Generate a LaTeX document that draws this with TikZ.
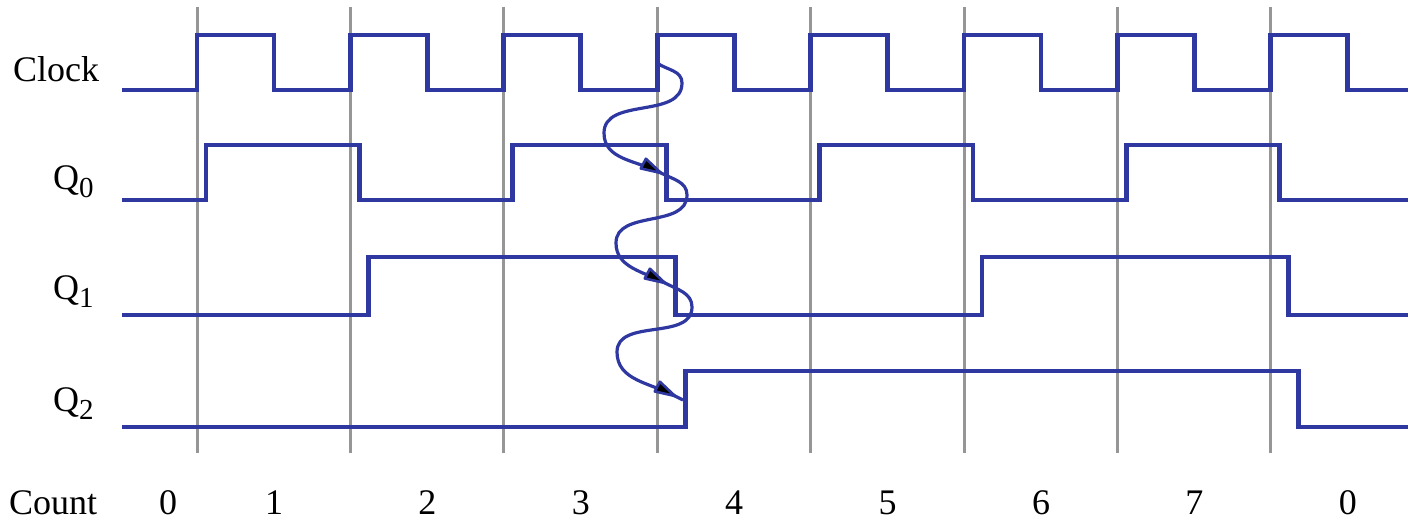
\documentclass[tikz,border=0pt]{standalone}
\usepackage{fontspec}
\setmainfont{Liberation Serif}
\usepackage{xcolor}
\usetikzlibrary{arrows.meta}
\definecolor{sigblue}{RGB}{46, 56, 160}
\definecolor{gridgray}{RGB}{150, 150, 150}

\begin{document}
\begin{tikzpicture}[
  x=1pt, y=1pt,
  gridline/.style={draw=gridgray, line width=3pt},
  wave/.style={draw=sigblue, line width=4.8pt},
  ripple/.style={draw=sigblue, line width=3.2pt},
  headshape/.style={draw=sigblue, fill=black, line width=2.6pt, line join=round},
  siglabel/.style={anchor=base west, inner sep=0pt, font=\fontsize{36}{40}\selectfont}
]
\useasboundingbox (0,0) rectangle (1408,522);

% Clock period grid
\foreach \k in {0,...,7}
  \draw[gridline] ({197+153.4*\k},515) -- ({197+153.4*\k},69);

% Signal names
\newcommand{\qsub}[1]{Q{\fontsize{29}{30}\selectfont\raisebox{-8pt}{#1}}}
\node[siglabel] (clocklbl) at (13,440) {Clock};
\node[siglabel] (qzerolbl) at (53,332) {\qsub{0}};
\node[siglabel] (qonelbl) at (53,222) {\qsub{1}};
\node[siglabel] (qtwolbl) at (53,110) {\qsub{2}};

% Count row
\node[siglabel] (countlbl) at (9,8) {Count};
\node[siglabel, anchor=base] (cnt0) at (168,8) {0};
\foreach \k/\n in {0/1,1/2,2/3,3/4,4/5,5/6,6/7,7/0}
  \node[siglabel, anchor=base] (cnt\n) at ({274+153.4*\k},8) {\n};

% Clock
\draw[wave] (122,432)
  \foreach \k in {0,...,7}{
    -- ({197+153.4*\k},432) -- ({197+153.4*\k},487)
    -- ({274+153.4*\k},487) -- ({274+153.4*\k},432) }
  -- (1408,432);

% Q0
\draw[wave] (122,322) -- (206,322) -- (206,377) -- (359.4,377) -- (359.4,322)
  -- (512.8,322) -- (512.8,377) -- (666.2,377) -- (666.2,322)
  -- (819.6,322) -- (819.6,377) -- (973,377) -- (973,322)
  -- (1126.4,322) -- (1126.4,377) -- (1279.8,377) -- (1279.8,322) -- (1408,322);

% Q1
\draw[wave] (122,207) -- (368.4,207) -- (368.4,265) -- (675.2,265) -- (675.2,207)
  -- (982,207) -- (982,265) -- (1288.8,265) -- (1288.8,207) -- (1408,207);

% Q2
\draw[wave] (122,95) -- (685.2,95) -- (685.2,151) -- (1298.8,151) -- (1298.8,95) -- (1408,95);

% Ripple propagation
\coordinate (clkedge) at (657,459);
\coordinate (qzerotip) at (661,349);
\coordinate (qonetip) at (665,239);
\coordinate (qtwotip) at (675,126);
\coordinate (qtwoedge) at (683,122);
\draw[ripple] (clkedge) to[out=-35, in=90] (682,439) to[out=-90, in=90] (604,389)
  to[out=-90, in=152] (qzerotip) to[out=-28, in=90] (687,327) to[out=-90, in=90] (616,279)
  to[out=-90, in=152] (qonetip) to[out=-28, in=90] (692,215) to[out=-90, in=90] (617,170)
  to[out=-90, in=152] (qtwotip) -- (qtwoedge);
\filldraw[headshape, shift={(qzerotip)}, rotate=-28] (0,0) -- (-20,5.5) -- (-20,-5.5) -- cycle;
\filldraw[headshape, shift={(qonetip)}, rotate=-28] (0,0) -- (-20,5.5) -- (-20,-5.5) -- cycle;
\filldraw[headshape, shift={(qtwotip)}, rotate=-28] (0,0) -- (-20,5.5) -- (-20,-5.5) -- cycle;

\end{tikzpicture}
\end{document}
